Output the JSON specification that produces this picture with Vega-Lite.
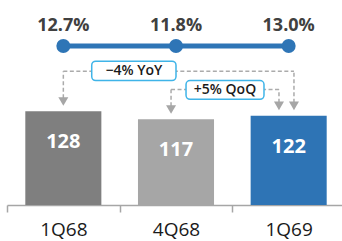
{
  "$schema": "https://vega.github.io/schema/vega-lite/v6.json",
  "width": 335,
  "height": 205,
  "autosize": {"type": "none"},
  "padding": {"left": 7, "top": 0, "right": 0, "bottom": 36},
  "datasets": {
    "quarters": [
      {"q": "1Q68", "value": 128, "margin": 0.127},
      {"q": "4Q68", "value": 117, "margin": 0.118},
      {"q": "1Q69", "value": 122, "margin": 0.130}
    ],
    "changes": [
      {"label": "−4% YoY", "from": "1Q69", "to": "1Q68"},
      {"label": "+5% QoQ", "from": "1Q69", "to": "4Q68"}
    ]
  },
  "config": {
    "view": {"stroke": null},
    "font": "Open Sans",
    "axisX": {
      "labelAngle": 0, "tickBand": "extent", "tickSize": 7, "tickWidth": 1.5, "tickColor": "#a6a6a6",
      "domainColor": "#a6a6a6", "domainWidth": 1.5, "labelFont": "Open Sans", "labelFontSize": 19,
      "labelColor": "#1a1a1a", "labelPadding": 8, "grid": false
    }
  },
  "layer": [
    {
      "data": {"name": "quarters"},
      "layer": [
        {
          "mark": {"type": "bar", "width": {"band": 0.675}},
          "encoding": {
            "x": {
              "field": "q", "type": "nominal", "title": null,
              "scale": {"domain": ["1Q68", "4Q68", "1Q69"], "range": [0, 338], "paddingInner": 0, "paddingOuter": 0}
            },
            "y": {"field": "value", "type": "quantitative", "scale": {"domain": [0, 271.5]}, "axis": null},
            "color": {"field": "q", "type": "nominal", "scale": {"domain": ["1Q68", "4Q68", "1Q69"], "range": ["#7f7f7f", "#a6a6a6", "#2e74b5"]}, "legend": null}
          }
        },
        {
          "mark": {"type": "text", "dy": 31, "fontSize": 20, "fontWeight": "bold", "color": "white", "baseline": "middle"},
          "encoding": {
            "x": {"field": "q", "type": "nominal", "title": null},
            "y": {"field": "value", "type": "quantitative", "axis": null},
            "text": {"field": "value", "type": "quantitative"}
          }
        },
        {
          "mark": {"type": "line", "color": "#2e75b6", "strokeWidth": 5},
          "encoding": {
            "x": {"field": "q", "type": "nominal", "title": null},
            "y": {"datum": 217.2, "type": "quantitative", "axis": null}
          }
        },
        {
          "mark": {"type": "point", "filled": true, "size": 195, "color": "#2e75b6", "opacity": 1},
          "encoding": {
            "x": {"field": "q", "type": "nominal", "title": null},
            "y": {"datum": 217.2, "type": "quantitative", "axis": null}
          }
        },
        {
          "mark": {"type": "text", "dy": -19.5, "fontSize": 18, "fontWeight": "bold", "color": "#404040", "baseline": "middle"},
          "encoding": {
            "x": {"field": "q", "type": "nominal", "title": null},
            "y": {"datum": 217.2, "type": "quantitative", "axis": null},
            "text": {"field": "margin", "type": "quantitative", "format": ".1%"}
          }
        }
      ]
    },
    {
      "data": {"name": "changes"},
      "transform": [
        {"lookup": "to", "from": {"data": {"name": "quarters"}, "key": "q", "fields": ["value"]}, "as": ["toValue"]},
        {"lookup": "from", "from": {"data": {"name": "quarters"}, "key": "q", "fields": ["value"]}, "as": ["fromValue"]}
      ],
      "layer": [
        {
          "transform": [{"filter": "datum.to == '1Q68'"}],
          "layer": [
            {
              "mark": {"type": "rule", "color": "#ababab", "strokeWidth": 1.5, "strokeDash": [4, 2.5]},
              "encoding": {
                "x": {"field": "to", "type": "nominal", "bandPosition": 0.5, "title": null},
                "x2": {"field": "from", "bandPosition": 0.547},
                "y": {"datum": 182.8, "type": "quantitative", "axis": null}
              }
            },
            {
              "mark": {"type": "rule", "color": "#ababab", "strokeWidth": 1.5, "strokeDash": [4, 2.5], "yOffset": -13},
              "encoding": {
                "x": {"field": "to", "type": "nominal", "bandPosition": 0.5, "title": null},
                "y": {"field": "toValue", "type": "quantitative", "axis": null},
                "y2": {"datum": 182.8}
              }
            },
            {
              "mark": {"type": "rule", "color": "#ababab", "strokeWidth": 1.5, "strokeDash": [4, 2.5], "yOffset": -13},
              "encoding": {
                "x": {"field": "from", "type": "nominal", "bandPosition": 0.547, "title": null},
                "y": {"field": "fromValue", "type": "quantitative", "axis": null},
                "y2": {"datum": 182.8}
              }
            },
            {
              "mark": {"type": "point", "shape": "triangle-down", "filled": true, "size": 100, "color": "#a6a6a6", "opacity": 1, "yOffset": -9.8},
              "encoding": {
                "x": {"field": "to", "type": "nominal", "bandPosition": 0.5, "title": null},
                "y": {"field": "toValue", "type": "quantitative", "axis": null}
              }
            },
            {
              "mark": {"type": "point", "shape": "triangle-down", "filled": true, "size": 100, "color": "#a6a6a6", "opacity": 1, "yOffset": -9.8},
              "encoding": {
                "x": {"field": "from", "type": "nominal", "bandPosition": 0.547, "title": null},
                "y": {"field": "fromValue", "type": "quantitative", "axis": null}
              }
            },
            {
              "mark": {"type": "rect", "fill": "white", "stroke": "#3fb4e8", "strokeWidth": 1.5, "cornerRadius": 4},
              "encoding": {
                "x": {"field": "to", "type": "nominal", "bandPosition": 0.752, "title": null},
                "x2": {"field": "to", "bandPosition": 1.5},
                "y": {"datum": 196.4, "type": "quantitative", "axis": null},
                "y2": {"datum": 169.9}
              }
            },
            {
              "mark": {"type": "text", "fontSize": 14, "fontWeight": 600, "color": "#1a1a1a", "baseline": "middle", "align": "center"},
              "encoding": {
                "x": {"field": "to", "type": "nominal", "bandPosition": 1.126, "title": null},
                "y": {"datum": 183.2, "type": "quantitative", "axis": null},
                "text": {"field": "label", "type": "nominal"}
              }
            }
          ]
        },
        {
          "transform": [{"filter": "datum.to == '4Q68'"}],
          "layer": [
            {
              "mark": {"type": "rule", "color": "#ababab", "strokeWidth": 1.5, "strokeDash": [4, 2.5]},
              "encoding": {
                "x": {"field": "to", "type": "nominal", "bandPosition": 0.456, "title": null},
                "x2": {"field": "from", "bandPosition": 0.414},
                "y": {"datum": 157.6, "type": "quantitative", "axis": null}
              }
            },
            {
              "mark": {"type": "rule", "color": "#ababab", "strokeWidth": 1.5, "strokeDash": [4, 2.5], "yOffset": -13},
              "encoding": {
                "x": {"field": "to", "type": "nominal", "bandPosition": 0.456, "title": null},
                "y": {"field": "toValue", "type": "quantitative", "axis": null},
                "y2": {"datum": 157.6}
              }
            },
            {
              "mark": {"type": "rule", "color": "#ababab", "strokeWidth": 1.5, "strokeDash": [4, 2.5], "yOffset": -13},
              "encoding": {
                "x": {"field": "from", "type": "nominal", "bandPosition": 0.414, "title": null},
                "y": {"field": "fromValue", "type": "quantitative", "axis": null},
                "y2": {"datum": 157.6}
              }
            },
            {
              "mark": {"type": "point", "shape": "triangle-down", "filled": true, "size": 100, "color": "#a6a6a6", "opacity": 1, "yOffset": -9.8},
              "encoding": {
                "x": {"field": "to", "type": "nominal", "bandPosition": 0.456, "title": null},
                "y": {"field": "toValue", "type": "quantitative", "axis": null}
              }
            },
            {
              "mark": {"type": "point", "shape": "triangle-down", "filled": true, "size": 100, "color": "#a6a6a6", "opacity": 1, "yOffset": -9.8},
              "encoding": {
                "x": {"field": "from", "type": "nominal", "bandPosition": 0.414, "title": null},
                "y": {"field": "fromValue", "type": "quantitative", "axis": null}
              }
            },
            {
              "mark": {"type": "rect", "fill": "white", "stroke": "#3fb4e8", "strokeWidth": 1.5, "cornerRadius": 4},
              "encoding": {
                "x": {"field": "to", "type": "nominal", "bandPosition": 0.589, "title": null},
                "x2": {"field": "from", "bandPosition": 0.281},
                "y": {"datum": 169.9, "type": "quantitative", "axis": null},
                "y2": {"datum": 144.4}
              }
            },
            {
              "mark": {"type": "text", "fontSize": 14, "fontWeight": 600, "color": "#1a1a1a", "baseline": "middle", "align": "center"},
              "encoding": {
                "x": {"field": "to", "type": "nominal", "bandPosition": 0.935, "title": null},
                "y": {"datum": 157.1, "type": "quantitative", "axis": null},
                "text": {"field": "label", "type": "nominal"}
              }
            }
          ]
        }
      ]
    }
  ]
}
